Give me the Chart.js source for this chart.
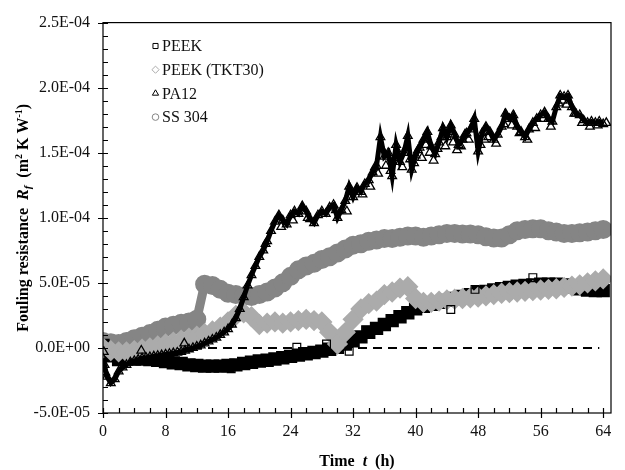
<!DOCTYPE html>
<html><head><meta charset="utf-8">
<script src="https://cdn.jsdelivr.net/npm/chart.js@4.4.0/dist/chart.umd.min.js"></script>
<style>html,body{margin:0;padding:0;background:#fff;}#wrap{width:625px;height:470px;position:relative;}</style>
</head><body><div id="wrap"><canvas id="c"></canvas></div>
<script>
// Values in units of 1e-5 m2 K W-1
const UNIT = 1e-5;
const seriesNames = ['PEEK', 'PEEK (TKT30)', 'PA12', 'SS 304'];
const xTickVals = [0, 8, 16, 24, 32, 40, 48, 56, 64];
const xTickLabels = ['0', '8', '16', '24', '32', '40', '48', '56', '64'];
const yTickVals = [-5, 0, 5, 10, 15, 20, 25];
const yTickLabels = ['-5.0E-05', '0.0E+00', '5.0E-05', '1.0E-04', '1.5E-04', '2.0E-04', '2.5E-04'];

// hourly samples t = 0..64 h
const hourT = Array.from({length: 65}, (_, i) => i);
// half-hourly samples t = 0..64 h
const halfT = Array.from({length: 129}, (_, i) => i * 0.5);

const ssVals = [0.5,0.4,0.35,0.5,0.7,0.9,1.1,1.35,1.6,1.75,1.9,2.0,2.2,4.9,4.8,4.5,4.2,4.1,4.0,3.95,
  4.1,4.3,4.6,5.0,5.5,6.0,6.3,6.5,6.8,7.0,7.3,7.6,7.9,8.0,8.2,8.3,8.4,8.4,8.5,8.6,
  8.6,8.5,8.6,8.7,8.8,8.8,8.75,8.75,8.7,8.55,8.45,8.45,8.7,9.0,9.1,9.15,9.15,9.0,8.9,8.8,
  8.8,8.85,8.9,9.0,9.1];
const tktVals = [0.0,-0.2,-0.3,-0.3,-0.2,-0.1,0.0,0.15,0.3,0.45,0.6,0.75,0.9,1.1,1.3,1.6,2.0,2.5,2.7,2.4,
  1.8,1.9,2.0,1.9,2.0,2.1,2.2,2.1,2.0,1.2,0.3,1.2,2.2,3.0,3.4,3.6,4.1,4.3,4.6,4.7,
  3.8,3.5,3.5,3.6,3.7,3.75,3.8,3.85,3.9,4.0,4.1,4.2,4.25,4.3,4.35,4.4,4.45,4.5,4.55,4.65,
  4.75,4.85,5.0,5.15,5.3];
const peekVals = [0.2,-0.6,-0.9,-0.85,-0.85,-0.85,-0.9,-0.95,-1.05,-1.15,-1.2,-1.3,-1.35,-1.4,-1.4,-1.4,-1.35,-1.3,-1.2,-1.1,
  -1.0,-0.95,-0.85,-0.75,-0.65,-0.55,-0.45,-0.35,-0.25,-0.1,0.05,0.3,0.55,0.85,1.2,1.5,1.8,2.1,2.4,2.7,
  3.0,3.2,3.35,3.5,3.65,3.8,3.95,4.1,4.25,4.35,4.45,4.55,4.65,4.75,4.8,4.85,4.9,4.9,4.9,4.85,
  4.7,4.55,4.45,4.4,4.4];
const peekOutT = [16.4, 20.6, 24.8, 28.6, 31.5, 33.6, 44.5, 47.6, 55.0];
const peekOutV = [-1.6, -1.0, 0.05, 0.3, -0.25, 1.4, 2.95, 4.5, 5.4];
const pa12Vals = [-0.8,-2.2,-2.7,-2.4,-1.8,-1.5,-1.3,-1.1,-1.0,-0.9,-0.8,-0.75,-0.7,-0.65,-0.6,-0.55,-0.5,-0.45,-0.4,-0.35,
  -0.3,-0.2,-0.1,0.0,0.1,0.2,0.35,0.5,0.65,0.8,1.0,1.2,1.45,1.8,2.3,3.0,3.9,4.8,5.6,6.3,
  7.0,7.5,8.2,9.0,9.7,10.2,9.8,9.5,10.2,10.5,10.3,10.9,10.5,9.9,9.6,10.2,10.5,10.3,10.8,11.0,
  10.0,10.6,11.3,12.4,11.6,12.3,12.0,12.6,12.9,13.5,14.0,16.2,14.7,15.0,13.2,15.6,14.3,15.0,16.3,13.7,
  14.8,15.4,16.0,16.6,15.5,14.9,15.8,16.9,16.2,17.1,16.4,15.6,16.0,16.5,16.8,17.6,15.1,16.5,17.0,16.6,
  16.0,16.4,17.0,18.0,17.6,17.9,17.0,16.6,16.2,16.8,17.3,17.6,17.9,18.1,17.6,17.4,18.5,19.4,19.3,19.4,
  18.5,18.0,17.9,17.5,17.3,17.4,17.3,17.4,17.2];
// scattered PA12 readings around the main trace (start transient and noisy cloud)
const pa12CloudT = [0.1,0.2,0.3,4.9,10.4,20.8,22.8,24.3,26.2,29.8,31.2,33.2,34.2,34.8,35.2,35.7,36.2,36.8,37.3,37.8,
  38.3,38.8,39.3,39.8,40.3,40.8,41.3,41.8,42.3,42.8,43.3,43.8,44.3,44.8,45.3,45.8,46.3,46.8,47.3,48.3,
  48.8,49.3,50.3,51.3,52.3,53.3,54.3,55.3,56.3,57.3,58.3,58.8,59.3,60.3,61.3,62.3,63.3,64.4];
const pa12CloudV = [-0.3,-1.3,-1.9,-0.2,0.35,8.0,9.3,9.8,10.0,10.6,10.5,11.8,12.4,13.9,13.4,15.3,14.0,13.6,14.6,15.0,
  13.9,15.4,14.5,14.2,15.2,14.6,15.6,15.0,14.4,15.3,16.2,15.5,16.6,15.8,15.2,15.5,16.4,16.0,17.0,15.6,
  16.0,16.2,15.7,17.2,17.1,16.5,16.0,16.9,17.6,17.0,18.8,19.0,18.7,18.0,17.3,17.0,17.1,17.3];
const zeroT = [0, 63.5];
const zeroV = [0, 0];

const pts = (ts, vs) => ts.map((t, i) => ({x: t, y: vs[i]}));
const C_SS = '#858585', C_TKT = '#ababab', C_BLK = '#000000';
const FONT = "'Liberation Serif', 'Times New Roman', serif";

const datasets = [
  {label: seriesNames[0], data: pts(hourT, peekVals), showLine: true, borderColor: C_BLK, borderWidth: 7,
   pointStyle: 'rect', pointRadius: 4.5, pointBackgroundColor: C_BLK, pointBorderColor: C_BLK, order: 5},
  {label: seriesNames[1], data: pts(hourT, tktVals), showLine: true, borderColor: C_TKT, borderWidth: 8,
   pointStyle: 'rectRot', pointRadius: 5, pointBackgroundColor: C_TKT, pointBorderColor: C_TKT, order: 4},
  {label: seriesNames[2], data: pts(halfT, pa12Vals), showLine: true, borderColor: C_BLK, borderWidth: 5,
   pointStyle: 'triangle', pointRadius: 5, pointBackgroundColor: 'rgba(0,0,0,0)', pointBorderColor: C_BLK, pointBorderWidth: 1.3, order: 3},
  {label: seriesNames[3], data: pts(hourT, ssVals), showLine: true, borderColor: C_SS, borderWidth: 9,
   pointStyle: 'circle', pointRadius: 5, pointBackgroundColor: C_SS, pointBorderColor: C_SS, order: 6},
  {label: seriesNames[0] + ' ', data: pts(peekOutT, peekOutV), showLine: false,
   pointStyle: 'rect', pointRadius: 5.5, pointBackgroundColor: 'rgba(0,0,0,0)', pointBorderColor: C_BLK, pointBorderWidth: 1.2, order: 2},
  {label: seriesNames[2] + ' ', data: pts(pa12CloudT, pa12CloudV), showLine: false,
   pointStyle: 'triangle', pointRadius: 5, pointBackgroundColor: 'rgba(0,0,0,0)', pointBorderColor: C_BLK, pointBorderWidth: 1.3, order: 2},
  {label: 'zero', data: pts(zeroT, zeroV), showLine: true, borderColor: C_BLK, borderWidth: 2, borderDash: [9, 6],
   pointRadius: 0, order: 9}
];

const legendItems = [
  {style: 'rect', color: C_BLK, r: 3.6},
  {style: 'rectRot', color: C_TKT, r: 3.6},
  {style: 'triangle', color: C_BLK, r: 3.6},
  {style: 'circle', color: C_SS, r: 3.3}
];

function drawPieces(ctx, pieces, cx, baseY) {
  let total = 0;
  pieces.forEach(p => { ctx.font = p.font; p.w = ctx.measureText(p.text).width; total += p.w; });
  let x = cx - total / 2;
  pieces.forEach(p => { ctx.font = p.font; ctx.fillText(p.text, x, baseY + (p.dy || 0)); x += p.w; });
}

const decor = {
  id: 'decor',
  afterDraw(chart) {
    const {ctx, chartArea: a, scales: {x, y}} = chart;
    ctx.save();
    ctx.strokeStyle = '#000';
    ctx.lineWidth = 1.2;
    ctx.strokeRect(a.left, a.top, a.right - a.left, a.bottom - a.top);
    ctx.beginPath();
    for (let t = 0; t <= 64; t += 2) {
      const px = Math.round(x.getPixelForValue(t)) + 0.5;
      const major = t % 8 === 0;
      ctx.moveTo(px, a.bottom + (major ? 5 : 0));
      ctx.lineTo(px, a.bottom - 5);
    }
    for (let v = -5; v <= 25; v += 1) {
      const py = Math.round(y.getPixelForValue(v)) + 0.5;
      const major = v % 5 === 0;
      ctx.moveTo(a.left - (major ? 5 : 0), py);
      ctx.lineTo(a.left + 5, py);
    }
    ctx.stroke();

    // legend
    ctx.textBaseline = 'middle';
    ctx.textAlign = 'left';
    legendItems.forEach((it, i) => {
      const ly = 46 + i * 23.7;
      ctx.save();
      ctx.strokeStyle = it.color; ctx.fillStyle = 'rgba(0,0,0,0)'; ctx.lineWidth = 1;
      Chart.helpers.drawPoint(ctx, {pointStyle: it.style, radius: it.r, borderWidth: 1, rotation: 0}, 155.5, ly);
      ctx.restore();
      ctx.fillStyle = '#111';
      ctx.font = '16px ' + FONT;
      ctx.fillText(seriesNames[i], 162, ly + 1);
    });

    // x title
    ctx.fillStyle = '#000';
    ctx.textBaseline = 'alphabetic';
    const cx = (a.left + a.right) / 2;
    drawPieces(ctx, [
      {text: 'Time  ', font: 'bold 16px ' + FONT},
      {text: 't', font: 'italic bold 16px ' + FONT},
      {text: '  (h)', font: 'bold 16px ' + FONT}
    ], cx, 466);

    // y title
    ctx.save();
    ctx.translate(28, (a.top + a.bottom) / 2);
    ctx.rotate(-Math.PI / 2);
    drawPieces(ctx, [
      {text: 'Fouling resistance  ', font: 'bold 16px ' + FONT},
      {text: 'R', font: 'italic bold 16px ' + FONT},
      {text: 'f', font: 'italic bold 11px ' + FONT, dy: 3},
      {text: '  (m', font: 'bold 16px ' + FONT},
      {text: '2', font: 'bold 10px ' + FONT, dy: -6},
      {text: ' K W', font: 'bold 16px ' + FONT},
      {text: '-1', font: 'bold 10px ' + FONT, dy: -6},
      {text: ')', font: 'bold 16px ' + FONT}
    ], 0, 0);
    ctx.restore();
    ctx.restore();
  }
};

new Chart(document.getElementById('c'), {
  type: 'scatter',
  data: {datasets},
  options: {
    responsive: true, maintainAspectRatio: false, animation: false, devicePixelRatio: 1,
    layout: {padding: {left: 0, top: 16, right: 5, bottom: 0}},
    plugins: {legend: {display: false}, tooltip: {enabled: false}},
    elements: {line: {tension: 0}},
    scales: {
      x: {
        type: 'linear', min: 0, max: 65,
        afterBuildTicks: s => { s.ticks = xTickVals.map(v => ({value: v})); },
        afterFit: s => { s.height = 57; },
        grid: {display: false, drawTicks: false}, border: {display: false},
        ticks: {padding: 9, color: '#111', font: {family: FONT, size: 16},
          callback: (v) => xTickLabels[xTickVals.indexOf(v)] ?? ''}
      },
      y: {
        type: 'linear', min: -5, max: 25,
        afterBuildTicks: s => { s.ticks = yTickVals.map(v => ({value: v})); },
        afterFit: s => { s.width = 103; },
        grid: {display: false, drawTicks: false}, border: {display: false},
        ticks: {padding: 13, color: '#111', font: {family: FONT, size: 16},
          callback: (v) => yTickLabels[yTickVals.indexOf(v)] ?? ''}
      }
    }
  },
  plugins: [decor]
});
</script></body></html>
